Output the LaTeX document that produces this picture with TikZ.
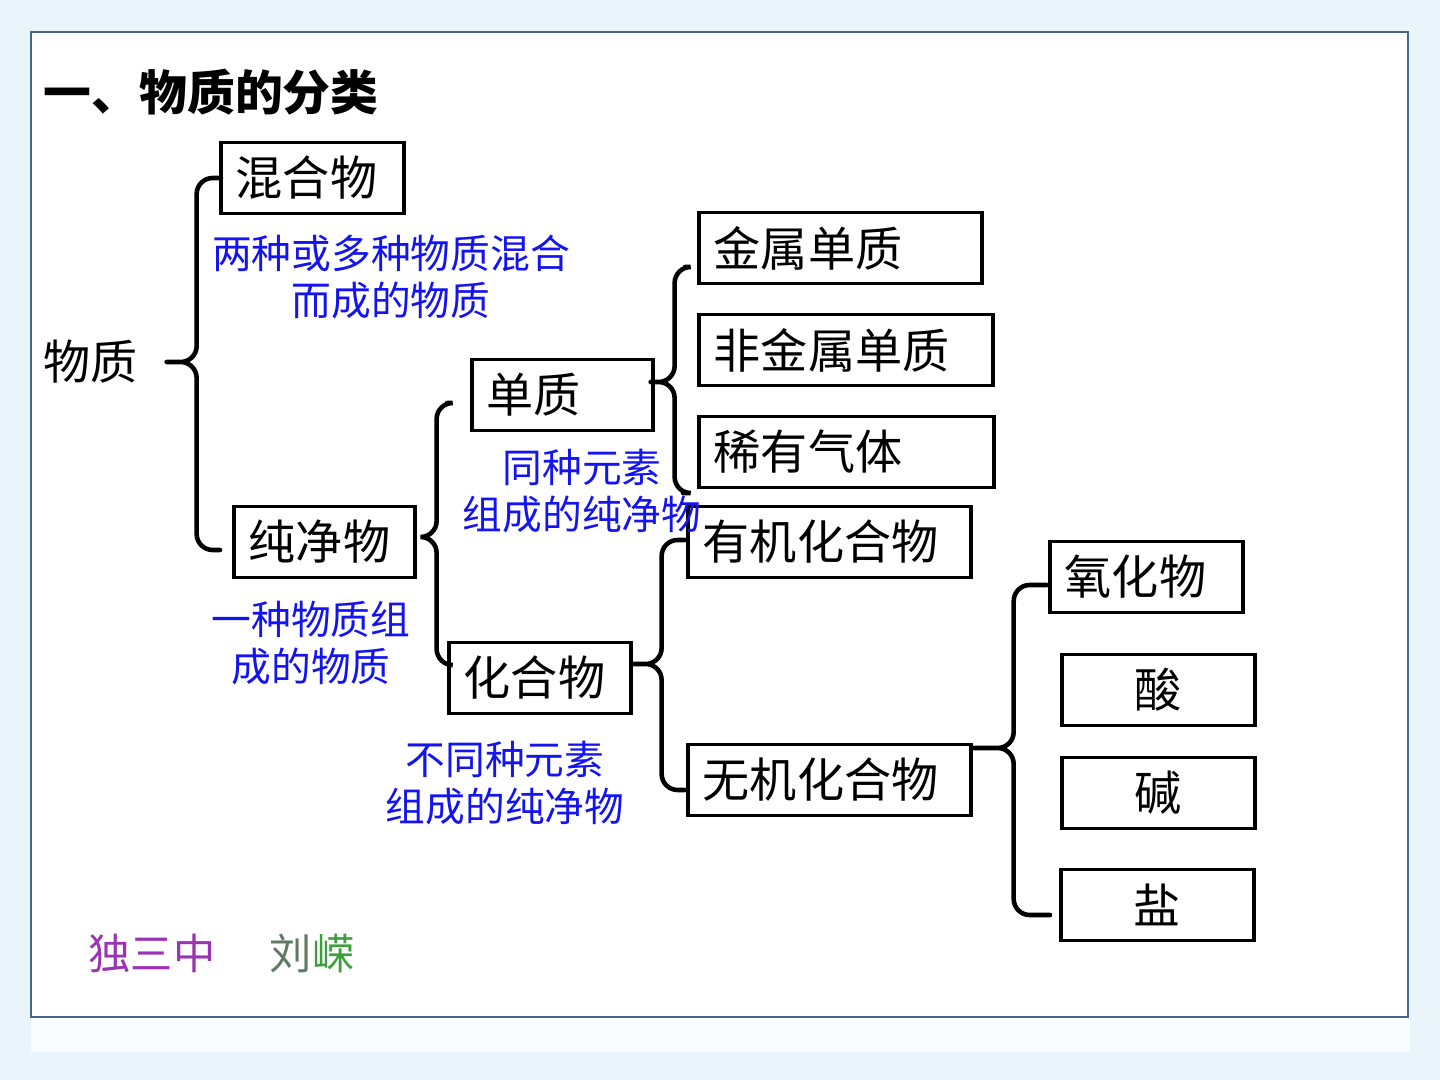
\documentclass[tikz,border=0pt]{standalone}
\usepackage{fontspec}
\setmainfont{Noto Sans CJK SC}
\usetikzlibrary{calc}
\definecolor{bgblue}{HTML}{E9F5FB}
\definecolor{framec}{HTML}{4A6585}
\definecolor{noteblue}{HTML}{1414F0}
\definecolor{schoolc}{HTML}{9A34B4}
\definecolor{namegray}{HTML}{5E7A62}
\definecolor{namegreen}{HTML}{3E9E3E}
\tikzset{
  box/.style={draw, line width=1pt, minimum height=0.71cm, inner xsep=0.15cm,
    inner ysep=0pt, text width=#1, align=left, anchor=west,
    font=\fontsize{13.4}{16}\selectfont},
  cbox/.style={box=#1, align=center},
  note/.style={text=noteblue, align=center, inner sep=0pt,
    font=\fontsize{11.3}{13.4}\selectfont},
  brc/.style={line width=1.3pt, line cap=round, rounded corners=0.16cm},
}
\begin{document}
\begin{tikzpicture}[x=0.01cm, y=-0.01cm]
\useasboundingbox (0,0) rectangle (1440,1080);
\fill[bgblue] (0,0) rectangle (1440,1080);
\fill[white, opacity=0.7] (31,1017) rectangle (1410,1052);
\draw[framec, line width=0.6pt, fill=white] (31,32) rectangle (1408,1017);

\node[anchor=west, inner sep=0pt, font=\fontsize{13.6}{16}\selectfont\bfseries] (ttl) at (43,92) {一、物质的分类};
\node[anchor=west, inner sep=0pt, font=\fontsize{13.4}{16}\selectfont] (wz) at (43,362) {物质};

\node[box=1.53cm] (hun) at (219,178) {混合物};
\node[box=1.51cm] (cjw) at (232,542) {纯净物};
\node[box=1.51cm] (dz) at (470,395) {单质};
\node[box=1.52cm] (hhw) at (447,678) {化合物};
\node[box=2.53cm] (jsdz) at (697,248) {金属单质};
\node[box=2.64cm] (fjs) at (697,350) {非金属单质};
\node[box=2.65cm] (xyqt) at (697,452) {稀有气体};
\node[box=2.53cm] (yj) at (686,542) {有机化合物};
\node[box=2.53cm] (wj) at (686,780) {无机化合物};
\node[box=1.63cm] (yhw) at (1048,577) {氧化物};
\node[cbox=1.63cm] (suan) at (1060,690) {酸};
\node[cbox=1.63cm] (jian) at (1060,793) {碱};
\node[cbox=1.63cm] (yan) at (1059,905) {盐};

\node[note] (n1) at (391,277) {两种或多种物质混合\\而成的物质};
\node[note] (n2) at (311,643) {一种物质组\\成的物质};
\node[note] (n3) at (582,491) {同种元素\\组成的纯净物};
\node[note] (n4) at (505,783) {不同种元素\\组成的纯净物};

\coordinate (t1) at ($(wz.east)+(28,0)$);
\coordinate (t2) at ($(cjw.east)+(4,-5)$);
\coordinate (t3) at ($(dz.east)+(-4,-13)$);
\coordinate (t4) at ($(hhw.east)+(0,-14)$);
\coordinate (t5) at ($(wj.east)+(1,-32)$);

\draw[brc] ($(hun.west)+(2,0)$) -| ($(t1)+(30,0)$) -- (t1)
           ($(cjw.west)+(-12,8)$) -| ($(t1)+(30,0)$) -- (t1);
\draw[brc] ($(dz.west)+(-23,8)$) -| ($(t2)+(16,0)$) -- (t2)
           ($(hhw.west)+(2,-13)$) -| ($(t2)+(16,0)$) -- (t2);
\draw[brc] ($(jsdz.west)+(-12,19)$) -| ($(t3)+(24,0)$) -- (t3)
           ($(xyqt.west)+(-14,41)$) -| ($(t3)+(24,0)$) -- (t3);
\draw[brc] ($(yj.west)+(-1,-2)$) -| ($(t4)+(29,0)$) -- (t4)
           ($(wj.west)+(-1,10)$) -| ($(t4)+(29,0)$) -- (t4);
\draw[brc] ($(yhw.west)+(-1,8)$) -| ($(t5)+(40,0)$) -- (t5)
           ($(yan.west)+(-9,10)$) -| ($(t5)+(40,0)$) -- (t5);

\node[inner sep=0pt, text=schoolc, font=\fontsize{12}{14}\selectfont] (sch) at (152,953) {独三中};
\node[inner sep=0pt, font=\fontsize{12}{14}\selectfont] (nm) at (312,953) {\textcolor{namegray}{刘}\textcolor{namegreen}{嵘}};
\end{tikzpicture}
\end{document}
